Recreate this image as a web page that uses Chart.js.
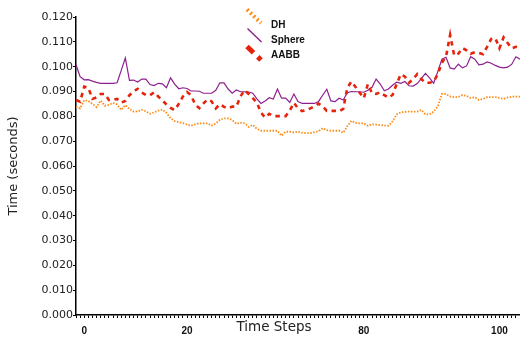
<!DOCTYPE html>
<html><head><meta charset="utf-8">
<script src="https://cdn.jsdelivr.net/npm/chart.js@4"></script>
<style>html,body{margin:0;padding:0;background:#fff}</style>
</head><body>
<canvas id="c" width="520" height="337"></canvas>
<script>
const seriesNames = ['DH', 'Sphere', 'AABB'];
const tickPositions = [2, 27, 70, 103];
const tickLabels = ['0', '20', '80', '100'];

const dh = [0.0839,0.0832,0.0865,0.0862,0.0850,0.0837,0.0863,0.0843,0.0846,0.0854,
0.0848,0.0826,0.0845,0.0830,0.0819,0.0820,0.0826,0.0820,0.0810,0.0816,
0.0823,0.0827,0.0814,0.0792,0.0781,0.0776,0.0773,0.0767,0.0762,0.0768,
0.0772,0.0772,0.0772,0.0763,0.0771,0.0786,0.0792,0.0792,0.0785,0.0770,
0.0774,0.0772,0.0757,0.0765,0.0750,0.0742,0.0742,0.0742,0.0742,0.0742,
0.0722,0.0738,0.0738,0.0735,0.0738,0.0734,0.0732,0.0732,0.0736,0.0740,
0.0752,0.0744,0.0742,0.0742,0.0742,0.0734,0.0760,0.0782,0.0774,0.0772,
0.0772,0.0762,0.0768,0.0767,0.0765,0.0763,0.0762,0.0780,0.0808,0.0816,
0.0818,0.0819,0.0819,0.0819,0.0826,0.0808,0.0808,0.0819,0.0840,0.0890,
0.0890,0.0880,0.0877,0.0878,0.0886,0.0882,0.0874,0.0877,0.0866,0.0870,
0.0877,0.0877,0.0877,0.0874,0.0870,0.0876,0.0879,0.0879,0.0879];

const sphere = [0.1008,0.0960,0.0947,0.0948,0.0942,0.0937,0.0933,0.0933,0.0933,0.0933,
0.0935,0.0985,0.1035,0.0945,0.0946,0.0938,0.0950,0.0950,0.0928,0.0924,
0.0933,0.0931,0.0915,0.0955,0.0930,0.0911,0.0915,0.0912,0.0902,0.0902,
0.0901,0.0893,0.0893,0.0893,0.0905,0.0935,0.0935,0.0910,0.0893,0.0906,
0.0899,0.0899,0.0898,0.0893,0.0870,0.0852,0.0862,0.0875,0.0870,0.0910,
0.0873,0.0873,0.0856,0.0890,0.0860,0.0852,0.0852,0.0852,0.0852,0.0860,
0.0885,0.0909,0.0862,0.0859,0.0873,0.0866,0.0895,0.0900,0.0899,0.0899,
0.0897,0.0905,0.0917,0.0950,0.0930,0.0903,0.0910,0.0925,0.0938,0.0933,
0.0940,0.0923,0.0922,0.0932,0.0952,0.0973,0.0955,0.0933,0.0980,0.1030,
0.1038,0.0995,0.0990,0.1010,0.0995,0.1003,0.1040,0.1030,0.1007,0.1010,
0.1019,0.1014,0.1005,0.0998,0.0995,0.0998,0.1010,0.1040,0.1030];

const aabb = [0.0866,0.0859,0.0920,0.0915,0.0870,0.0876,0.0890,0.0890,0.0866,0.0866,
0.0870,0.0855,0.0862,0.0885,0.0900,0.0911,0.0896,0.0886,0.0885,0.0897,
0.0880,0.0864,0.0848,0.0834,0.0825,0.0850,0.0880,0.0898,0.0885,0.0847,
0.0833,0.0852,0.0868,0.0860,0.0832,0.0849,0.0838,0.0832,0.0839,0.0839,
0.0880,0.0905,0.0890,0.0873,0.0855,0.0815,0.0795,0.0810,0.0801,0.0801,
0.0801,0.0801,0.0823,0.0855,0.0832,0.0821,0.0825,0.0832,0.0840,0.0851,
0.0840,0.0822,0.0822,0.0822,0.0820,0.0830,0.0915,0.0940,0.0918,0.0895,
0.0873,0.0930,0.0893,0.0890,0.0897,0.0885,0.0875,0.0886,0.0930,0.0970,
0.0960,0.0935,0.0950,0.0970,0.0950,0.0935,0.0935,0.0940,0.0970,0.1016,
0.1040,0.1128,0.1045,0.1052,0.1075,0.1066,0.1052,0.1058,0.1055,0.1050,
0.1080,0.1112,0.1115,0.1074,0.1118,0.1095,0.1074,0.1080,0.1076];

const categories = dh.map((_, i) => i);

const styles = [
  {color: '#ff8a14', width: 1.8, dash: [1.5, 1.5], lw: 4, ld: [2, 2.6]},
  {color: '#8e1f8e', width: 1.2, dash: [], lw: 1.4, ld: []},
  {color: '#e5230b', width: 2.6, dash: [4.5, 4.5], lw: 5, ld: [9, 6]}
];

const floatLegend = {
  id: 'floatLegend',
  afterDraw(chart) {
    const ctx = chart.ctx;
    ctx.save();
    const starts = [[247, 9.5], [247.5, 28.5], [247, 46.5]];
    const textY = [25, 40.5, 55];
    chart.data.datasets.forEach((ds, i) => {
      const s = styles[i];
      ctx.strokeStyle = s.color;
      ctx.lineWidth = s.lw;
      ctx.setLineDash(s.ld);
      ctx.beginPath();
      ctx.moveTo(starts[i][0], starts[i][1]);
      ctx.lineTo(starts[i][0] + 14, starts[i][1] + 13.5);
      ctx.stroke();
      ctx.setLineDash([]);
      ctx.fillStyle = '#111';
      ctx.font = 'bold 10px "Liberation Sans"';
      ctx.textAlign = 'left';
      ctx.textBaseline = 'middle';
      ctx.fillText(ds.label, 271, textY[i]);
    });
    ctx.fillStyle = '#222';
    ctx.font = '13.5px "DejaVu Sans"';
    ctx.textAlign = 'center';
    ctx.textBaseline = 'middle';
    ctx.fillText('Time Steps', 274, 327);
    ctx.restore();
  }
};

const datasets = [dh, sphere, aabb].map((d, i) => ({
  label: seriesNames[i],
  data: d,
  borderColor: styles[i].color,
  backgroundColor: styles[i].color,
  borderWidth: styles[i].width,
  borderDash: styles[i].dash,
  pointRadius: 0,
  tension: 0,
  fill: false,
  order: 3 - i
}));

new Chart(document.getElementById('c'), {
  type: 'line',
  data: { labels: categories, datasets },
  plugins: [floatLegend],
  options: {
    responsive: false,
    devicePixelRatio: 1,
    animation: false,
    layout: { padding: { top: 17, right: 0, bottom: 0, left: 0 } },
    plugins: { legend: { display: false }, tooltip: { enabled: false } },
    scales: {
      x: {
        type: 'category',
        offset: false,
        afterFit: (s) => { s.height = 22; s.paddingRight = 0; s.paddingLeft = 0; },
        border: { color: '#000', width: 1.5 },
        grid: { display: true, drawOnChartArea: false, drawTicks: true, tickLength: 3, color: '#000', lineWidth: 1 },
        ticks: {
          autoSkip: false, maxRotation: 0, minRotation: 0, padding: 7,
          color: '#111', font: { family: '"Liberation Sans"', size: 10, weight: 'bold' },
          callback: (v, idx) => { const k = tickPositions.indexOf(idx); return k >= 0 ? tickLabels[k] : ''; }
        }
      },
      y: {
        min: 0, max: 0.12,
        afterFit: (s) => { s.width = 76; },
        border: { color: '#000', width: 1.5 },
        grid: { display: true, drawOnChartArea: false, drawTicks: true, tickLength: 3, color: '#000', lineWidth: 1 },
        title: { display: true, text: 'Time (seconds)', color: '#222', font: { family: '"DejaVu Sans"', size: 13 }, padding: { top: 6, bottom: 0 } },
        ticks: {
          stepSize: 0.01, padding: 0, color: '#222',
          font: { family: '"DejaVu Sans"', size: 11 },
          callback: (v) => Number(v).toFixed(3)
        }
      }
    }
  }
});
</script>
</body></html>
